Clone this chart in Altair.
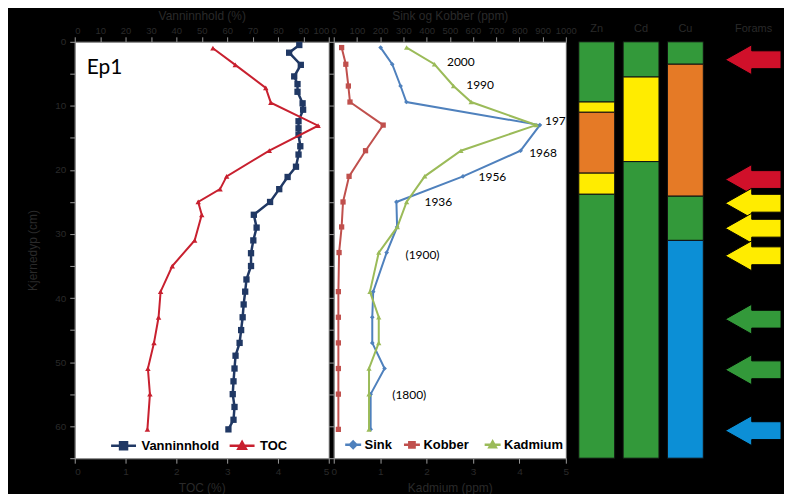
import altair as alt
import pandas as pd

# ---------------- data ----------------
depth_w = [0.5, 1.7, 3.6, 5.4, 6.6, 7.8, 9.6, 10.6, 12.4, 13.5, 14.5, 16.3, 17.6, 19.5,
           21.1, 23.0, 25.0, 27.0, 29.0, 31.0, 33.0, 35.0, 37.1, 39.0, 41.0, 43.0, 45.0,
           47.0, 49.0, 51.0, 53.0, 55.0, 57.0, 59.0, 60.5]
vann = [88.4, 84.4, 89.0, 86.4, 87.7, 87.7, 89.7, 89.9, 88.1, 88.1, 88.1, 88.8, 88.1, 87.1,
        83.8, 80.5, 76.9, 70.5, 71.6, 70.3, 69.4, 69.4, 67.6, 67.1, 66.5, 66.1, 65.5,
        64.9, 63.3, 62.9, 62.5, 62.2, 62.9, 62.5, 60.5]

depth_toc = [1.0, 3.6, 7.2, 9.5, 13.1, 17.0, 21.0, 23.0, 25.0, 27.0, 31.0, 35.0, 39.0,
             43.0, 47.0, 51.0, 55.0, 60.5]
toc = [2.72, 3.16, 3.76, 3.86, 4.79, 3.83, 2.99, 2.86, 2.43, 2.50, 2.36, 1.92, 1.69,
       1.65, 1.56, 1.44, 1.48, 1.43]

depth_m = [0.9, 3.5, 6.9, 9.4, 13.0, 17.0, 21.0, 25.0, 28.9, 32.9, 39.0, 43.0, 47.0,
           51.0, 55.0, 60.5]
sink = [202, 252, 288, 313, 888, 805, 557, 270, 273, 228, 170, 166, 166, 219, 159, 159]
kobber = [34, 52, 63, 70, 213, 137, 66, 40, 34, 23, 20, 20, 20, 20, 20, 20]
kadmium = [1.57, 2.17, 2.58, 2.96, 4.36, 2.74, 1.96, 1.57, 1.37, 0.97, 0.78, 0.97, 0.97,
           0.76, 0.76, 0.76]

year_labels = ["2000", "1990", "1978", "1968", "1956", "1936", "(1900)", "(1800)"]
year_x = [488, 571, 910, 842, 624, 391, 309, 252]
year_depth = [3.2, 6.7, 12.4, 17.4, 21.1, 25.0, 33.3, 55.1]

panel_label = ["Ep1"]
panel_label_x = [0.235]
panel_label_depth = [5.1]

bar_col = ["Zn"] * 5 + ["Cd"] * 3 + ["Cu"] * 4
bar_top = [0, 9.4, 11.0, 20.5, 23.8, 0, 5.5, 18.7, 0, 3.5, 24.1, 31.0]
bar_bot = [9.4, 11.0, 20.5, 23.8, 65, 5.5, 18.7, 65, 3.5, 24.1, 31.0, 65]
bar_cls = ["II", "III", "IV", "III", "II", "II", "III", "II", "II", "IV", "II", "I"]

arrow_depth = [2.8, 21.5, 25.2, 29.1, 33.4, 43.3, 51.2, 60.7]
arrow_cls = ["V", "V", "III", "III", "III", "II", "II", "I"]

classes = ["I", "II", "III", "IV", "V"]
class_colors = ["#0C8FD6", "#33993A", "#FFEC00", "#E57A26", "#D0102A"]

# ---------------- styling ----------------
NAVY = "#203864"
RED = "#C8202F"
SINK_C = "#4F81BD"
KOB_C = "#C0504D"
KAD_C = "#9BBB59"
LABEL = "#2a2a2a"
TICK = "#9a9a9a"
AFONT = "Liberation Sans"
H = 418

ysc = alt.Scale(domain=[0, 65], reverse=True, nice=False, zero=False)


def top_axis(title, values, flush):
    return alt.Axis(orient="top", title=title, values=values, grid=False, format="d",
                    labelFont=AFONT, titleFont=AFONT, labelFontSize=9.5, titleFontSize=12,
                    titleFontWeight="normal", labelColor=LABEL, titleColor=LABEL,
                    tickColor=TICK, domainColor=TICK, tickSize=5, labelPadding=1,
                    titleY=-22, titleBaseline="alphabetic",
                    labelFlush=flush, labelOverlap=False)


def bottom_axis(title, values, flush):
    return alt.Axis(orient="bottom", title=title, values=values, grid=False, format="d",
                    labelFont=AFONT, titleFont=AFONT, labelFontSize=10, titleFontSize=12,
                    titleFontWeight="normal", labelColor=LABEL, titleColor=LABEL,
                    tickColor=TICK, domainColor=TICK, tickSize=5, labelPadding=3,
                    titlePadding=6, labelFlush=flush, labelOverlap=False)


y_main = alt.Axis(title="Kjernedyp (cm)", values=list(range(0, 70, 5)), grid=False,
                  labelExpr="datum.value % 10 === 0 ? datum.label : ''",
                  labelFont=AFONT, titleFont=AFONT, labelFontSize=10, titleFontSize=12,
                  titleFontWeight="normal", labelColor=LABEL, titleColor=LABEL,
                  tickColor=TICK, domainColor=TICK, tickSize=5, labelPadding=4,
                  titlePadding=15)
y_plain = alt.Axis(title=None, labels=False, values=list(range(0, 70, 5)), grid=False,
                   tickColor=TICK, domainColor=TICK, tickSize=5)


def legend(x, y, sym, size, color, offset):
    return alt.Legend(title=None, orient="none", legendX=x, legendY=y, symbolType=sym,
                      symbolSize=size, symbolStrokeColor=color, symbolFillColor=color,
                      symbolStrokeWidth=2.5, labelFont=AFONT, labelFontSize=13,
                      labelFontWeight="bold", labelColor="black", labelOffset=offset,
                      padding=0)


SQ_L = "M-1,0L1,0M-0.28,-0.28L0.28,-0.28L0.28,0.28L-0.28,0.28Z"
TRI_L = "M-1,0L1,0M0,-0.3L0.3,0.24L-0.3,0.24Z"
DIA_S = "M-1,0L1,0M0,-0.4L0.4,0L0,0.4L-0.4,0Z"
SQ_S = "M-1,0L1,0M-0.33,-0.33L0.33,-0.33L0.33,0.33L-0.33,0.33Z"
TRI_S = "M-1,0L1,0M0,-0.4L0.4,0.32L-0.4,0.32Z"
ARROW = "M-1,0L-0.05,-0.536L-0.05,-0.32L1,-0.32L1,0.32L-0.05,0.32L-0.05,0.536Z"


def series_layer(df, name, color, shape, psize, xaxis, xdom, leg, swidth=2):
    xenc = alt.X("value:Q", scale=alt.Scale(domain=xdom, nice=False, zero=False), axis=xaxis)
    base = alt.Chart(df).encode(x=xenc, y=alt.Y("depth:Q", scale=ysc))
    line = base.mark_line(color=color, strokeWidth=swidth).encode(order="depth:Q")
    pts = base.mark_point(shape=shape, filled=True, size=psize, opacity=1).encode(
        color=alt.Color("series:N", scale=alt.Scale(domain=[name], range=[color]), legend=leg))
    return line, pts


# ---------------- panel 1 ----------------
df_w = pd.DataFrame({"depth": depth_w, "value": vann, "series": "Vanninnhold"})
df_t = pd.DataFrame({"depth": depth_toc, "value": toc, "series": "TOC"})
df_ep = pd.DataFrame({"depth": panel_label_depth, "value": panel_label_x, "txt": panel_label})

ax_w = top_axis("Vanninnhold (%)", list(range(0, 101, 10)), True)
ax_t = bottom_axis("TOC (%)", [0, 1, 2, 3, 4, 5], True)

w_line, w_pts = series_layer(df_w, "Vanninnhold", NAVY, "square", 40, ax_w, [0, 100],
                             legend(35, 391.5, SQ_L, 625, NAVY, 4), swidth=2.5)
t_line, t_pts = series_layer(df_t, "TOC", RED, "triangle-up", 30, ax_t, [0, 5],
                             legend(154, 391.5, TRI_L, 625, RED, 4))
ep_text = alt.Chart(df_ep).mark_text(font="Lato", fontSize=21, align="left",
                                     baseline="alphabetic", color="black").encode(
    x=alt.X("value:Q", scale=alt.Scale(domain=[0, 5], nice=False, zero=False), axis=ax_t),
    y=alt.Y("depth:Q", scale=ysc), text="txt:N")

layer_w = alt.layer(w_line, w_pts)
layer_t = alt.layer(t_line, t_pts, ep_text)
p1 = alt.layer(layer_w, layer_t).encode(
    y=alt.Y("depth:Q", scale=ysc, axis=y_main)
).resolve_scale(x="independent", color="independent").properties(width=255, height=H)

# ---------------- panel 2 ----------------
df_s = pd.DataFrame({"depth": depth_m, "value": sink, "series": "Sink"})
df_k = pd.DataFrame({"depth": depth_m, "value": kobber, "series": "Kobber"})
df_c = pd.DataFrame({"depth": depth_m, "value": kadmium, "series": "Kadmium"})
df_y = pd.DataFrame({"depth": year_depth, "value": year_x, "txt": year_labels})

ax_sk = top_axis("Sink og Kobber (ppm)", list(range(0, 1001, 100)), False)
ax_c = bottom_axis("Kadmium (ppm)", [0, 1, 2, 3, 4, 5], False)

s_line, s_pts = series_layer(df_s, "Sink", SINK_C, "diamond", 22, ax_sk, [0, 1000],
                             legend(10, 395, DIA_S, 256, SINK_C, 2))
k_line, k_pts = series_layer(df_k, "Kobber", KOB_C, "square", 28, ax_sk, [0, 1000],
                             legend(69, 395, SQ_S, 256, KOB_C, 2))
c_line, c_pts = series_layer(df_c, "Kadmium", KAD_C, "triangle-up", 28, ax_c, [0, 5],
                             legend(150, 395, TRI_S, 256, KAD_C, 2))
yr_text = alt.Chart(df_y).mark_text(font="Lato", fontSize=12, align="left",
                                    baseline="middle", color="black", clip=True).encode(
    x=alt.X("value:Q", scale=alt.Scale(domain=[0, 1000], nice=False, zero=False), axis=ax_sk),
    y=alt.Y("depth:Q", scale=ysc), text="txt:N")

layer_sk = alt.layer(s_line, k_line, s_pts, k_pts, yr_text).resolve_scale(color="independent")
layer_c = alt.layer(c_line, c_pts)
p2 = alt.layer(layer_sk, layer_c).encode(
    y=alt.Y("depth:Q", scale=ysc, axis=y_plain)
).resolve_scale(x="independent", color="independent").properties(width=233, height=H)

# ---------------- panel 3: classification bars ----------------
cls_scale = alt.Scale(domain=classes, range=class_colors)
head_axis = dict(orient="top", title=None, labelAngle=0, ticks=False, tickSize=0,
                 domain=False, labelPadding=8, labelFont=AFONT, labelFontSize=11,
                 labelColor=LABEL, grid=False)

df_bar = pd.DataFrame({"col": bar_col, "top": bar_top, "bot": bar_bot, "cls": bar_cls})
p3 = alt.Chart(df_bar).mark_bar(stroke="#111111", strokeWidth=1).encode(
    x=alt.X("col:N", sort=["Zn", "Cd", "Cu"],
            scale=alt.Scale(paddingInner=0.191, paddingOuter=0.18),
            axis=alt.Axis(**head_axis)),
    y=alt.Y("top:Q", scale=ysc, axis=None),
    y2="bot:Q",
    fill=alt.Fill("cls:N", scale=cls_scale, legend=None),
).properties(width=141, height=H,
             view=alt.ViewBackground(fill="transparent", stroke="transparent"))

# ---------------- panel 4: forams arrows ----------------
df_ar = pd.DataFrame({"col": "Forams", "depth": arrow_depth, "cls": arrow_cls})
p4 = alt.Chart(df_ar).mark_point(shape=ARROW, filled=True, size=3136, opacity=1,
                                 stroke="black", strokeWidth=1).encode(
    x=alt.X("col:N", scale=alt.Scale(type="point", align=0.617),
            axis=alt.Axis(**head_axis)),
    y=alt.Y("depth:Q", scale=ysc, axis=None),
    fill=alt.Fill("cls:N", scale=cls_scale, legend=None),
).properties(width=60, height=H,
             view=alt.ViewBackground(fill="transparent", stroke="transparent"))

chart = alt.HConcatChart(hconcat=[p1, p2, p3, p4], spacing=5, bounds="flush").resolve_scale(
    color="independent", fill="independent"
).properties(
    background="black",
    padding={"left": 18, "top": 0, "right": 0, "bottom": 0},
).configure_view(fill="white", stroke="#666666", strokeWidth=1)

chart.save("out.html", embed_options={"renderer": "svg", "actions": False})
